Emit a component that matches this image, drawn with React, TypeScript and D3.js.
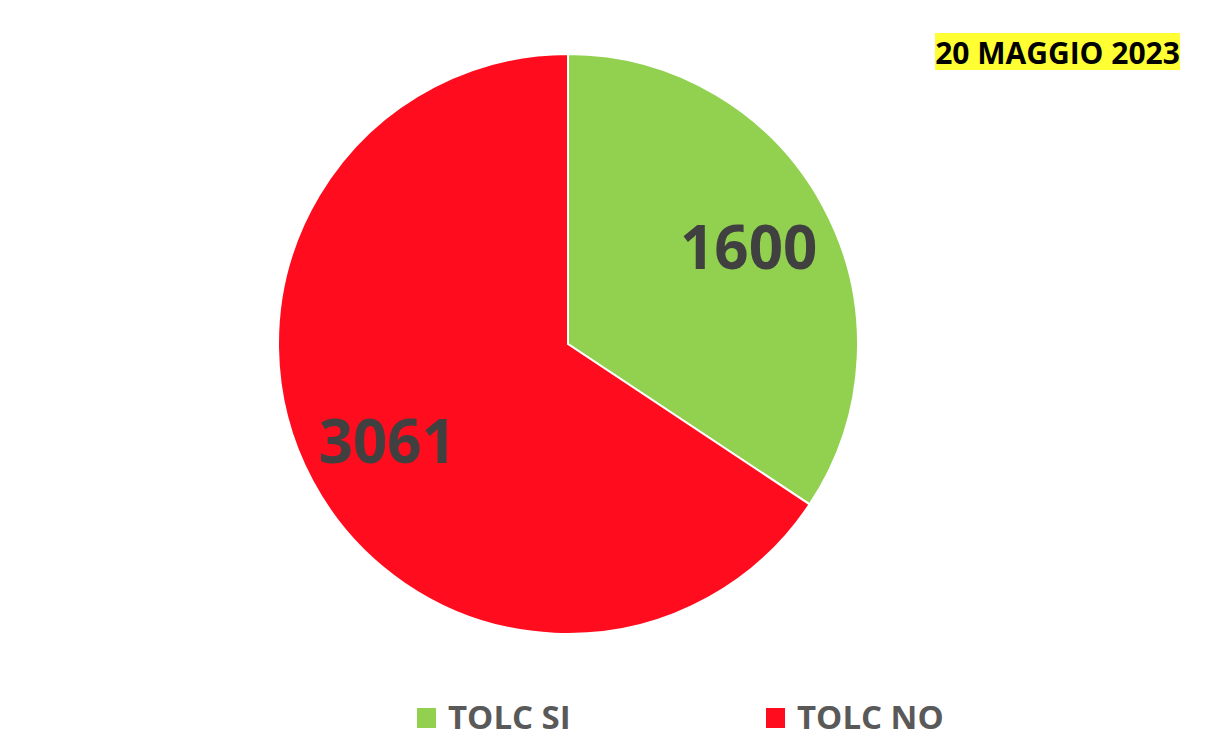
import React from "react";
import * as d3 from "d3";

const categories = ["TOLC SI", "TOLC NO"];
const values = [1600, 3061];
const colors = ["#92D050", "#FF0D1E"];
const title = "20 MAGGIO 2023";

const width = 1222;
const height = 754;
const center = { x: 568, y: 344 };
const radius = 290;
const font = "'Open Sans', sans-serif";

export default function App() {
  const pie = d3
    .pie<number>()
    .sort(null)
    .value((d) => d);
  const arcs = pie(values);
  const arc = d3.arc<d3.PieArcDatum<number>>().innerRadius(0).outerRadius(radius);
  const labelArc = d3
    .arc<d3.PieArcDatum<number>>()
    .innerRadius(205)
    .outerRadius(205);

  // legend positions
  const legendX = d3.scaleOrdinal<string, number>().domain(categories).range([417, 766]);

  return (
    <div style={{ position: "absolute", left: 0, top: 0 }}>
      <svg width={width} height={height} style={{ display: "block", background: "#fff" }}>
        <g transform={`translate(${center.x}, ${center.y})`}>
          {arcs.map((a, i) => (
            <path key={i} d={arc(a) || ""} fill={colors[i]} stroke="#fff" strokeWidth={2} />
          ))}
          {arcs.map((a, i) => {
            const [cx, cy] = labelArc.centroid(a);
            return (
              <text
                key={"l" + i}
                x={cx}
                y={cy}
                dy="0.36em"
                textAnchor="middle"
                fontFamily={font}
                fontWeight="bold"
                fontSize={60}
                fill="#404040"
              >
                {values[i]}
              </text>
            );
          })}
        </g>

        <rect x={935} y={33} width={245} height={37} fill="#FFFF33" />
        <text
          x={1057.5}
          y={64}
          textAnchor="middle"
          fontFamily={font}
          fontWeight="bold"
          fontSize={30}
          fill="#000"
        >
          {title}
        </text>

        {categories.map((c, i) => (
          <g key={c} transform={`translate(${legendX(c)}, 708)`}>
            <rect width={19} height={20} fill={colors[i]} />
            <text
              x={31}
              y={21}
              fontFamily={font}
              fontWeight="bold"
              fontSize={33}
              fill="#595959"
            >
              {c}
            </text>
          </g>
        ))}
      </svg>
    </div>
  );
}
